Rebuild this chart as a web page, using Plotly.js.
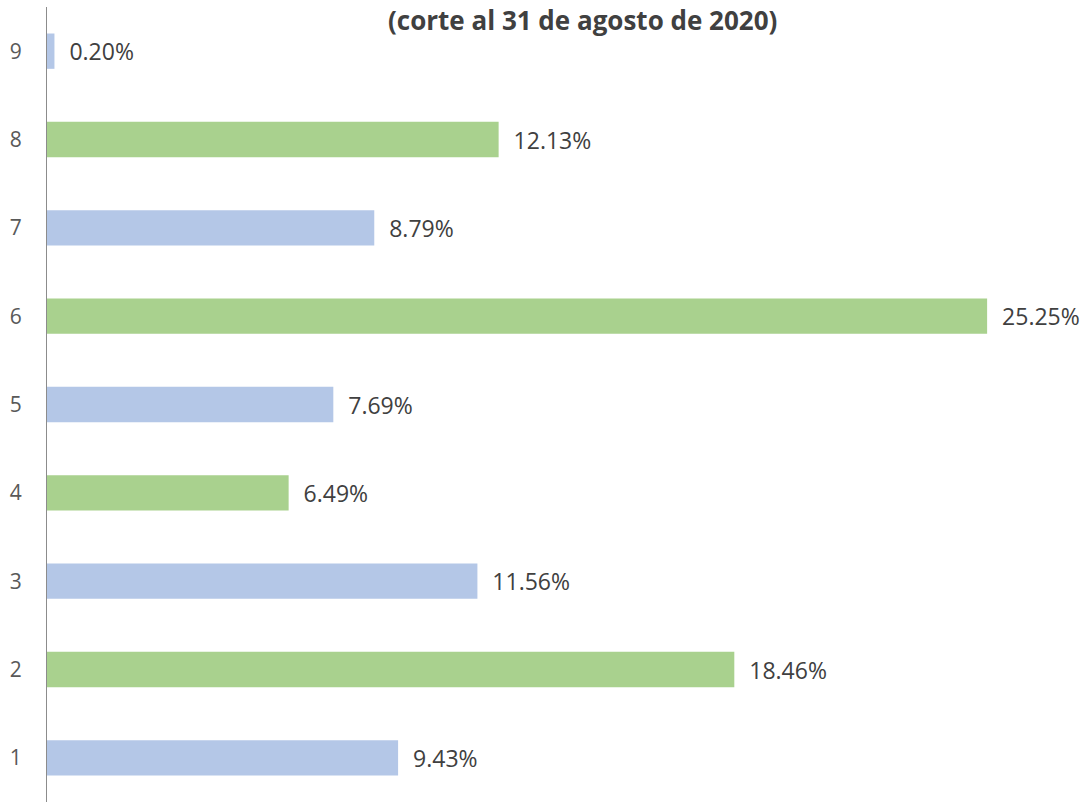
<!DOCTYPE html>
<html><head><meta charset="utf-8">
<script src="https://cdn.plot.ly/plotly-3.0.1.min.js"></script>
<style>html,body{margin:0;padding:0;background:#fff}#c{width:1091px;height:802px}</style>
</head><body><div id="c"></div>
<script>
const categories = ['1','2','3','4','5','6','7','8','9'];
const values = [9.43, 18.46, 11.56, 6.49, 7.69, 25.25, 8.79, 12.13, 0.20];
const barColors = ['#B4C7E7','#A9D18E','#B4C7E7','#A9D18E','#B4C7E7','#A9D18E','#B4C7E7','#A9D18E','#B4C7E7'];
const titleText = '(corte al 31 de agosto de 2020)';

Plotly.newPlot('c', [{
  type: 'bar', orientation: 'h',
  x: values, y: categories,
  marker: {color: barColors},
  width: 0.4,
  text: values.map(v => '\u00a0\u00a0' + v.toFixed(2) + '%'),
  textposition: 'outside',
  textfont: {family: 'Open Sans, sans-serif', size: 23, color: '#404040'},
  cliponaxis: false,
  hoverinfo: 'none'
}], {
  width: 1091, height: 802,
  margin: {l: 47, r: 0, t: 7, b: 0},
  paper_bgcolor: '#fff', plot_bgcolor: '#fff',
  showlegend: false,
  xaxis: {range: [0, 28.04], showgrid: false, zeroline: false, showticklabels: false, showline: false, fixedrange: true},
  yaxis: {type: 'category', showgrid: false, zeroline: false, showline: true, linecolor: '#8c8c8c', linewidth: 1,
          ticks: '', ticklabelstandoff: 20,
          tickfont: {family: 'Open Sans, sans-serif', size: 21, color: '#595959'}},
  annotations: [{
    text: '<b>' + titleText + '</b>', xref: 'paper', yref: 'paper', x: 0.5125, y: 1.0088,
    xanchor: 'center', yanchor: 'top', showarrow: false,
    font: {family: 'Open Sans, sans-serif', size: 26, color: '#404040'}
  }]
}, {displayModeBar: false, staticPlot: true});
</script></body></html>
